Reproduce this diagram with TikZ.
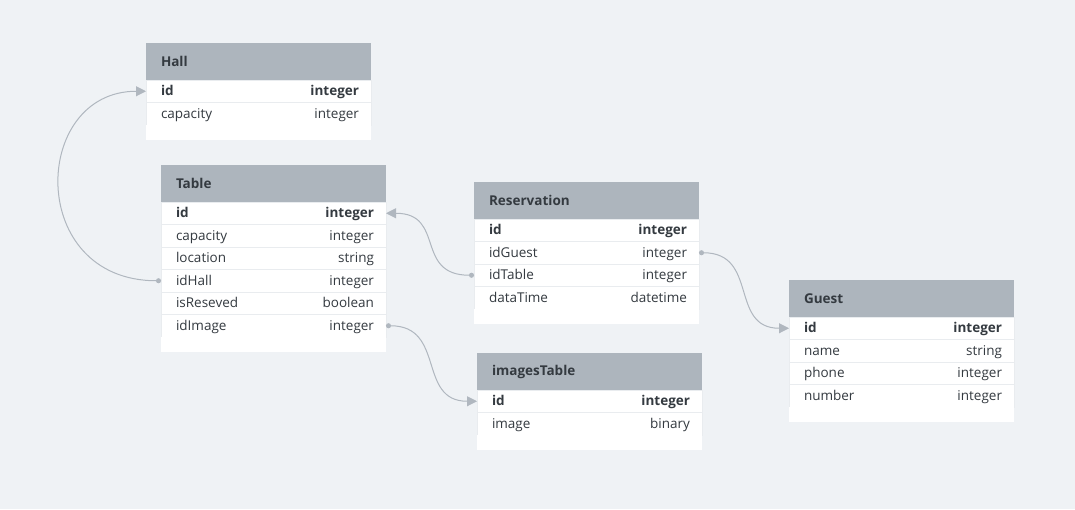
\documentclass[tikz,border=0pt]{standalone}
\usepackage{fontspec}
\setmainfont{Open Sans}
\usetikzlibrary{arrows.meta, positioning}

\definecolor{bgcol}{HTML}{EFF2F5}
\definecolor{headcol}{HTML}{ADB5BD}
\definecolor{sepcol}{HTML}{E9ECEF}
\definecolor{txtcol}{HTML}{343A40}
\definecolor{linkcol}{HTML}{B0B7BF}

\begin{document}
\begin{tikzpicture}[
  x=1pt, y=-1pt,
  node distance=0pt,
  every node/.style={outer sep=0pt, text=txtcol},
  tblhead/.style={fill=headcol, minimum height=37pt, text width=195pt,
    inner xsep=15pt, inner ysep=0pt, align=left,
    font=\fontsize{13.5}{16}\selectfont\bfseries},
  tblrow/.style={fill=white, draw=sepcol, line width=1pt, minimum height=22.5pt,
    text width=198pt, inner xsep=13.5pt, inner ysep=0pt, align=left,
    text height=2ex, text depth=.4ex,
    execute at begin node=\hspace*{1.5pt},
    execute at end node=\hspace*{-1.5pt},
    font=\fontsize{13.5}{16}\selectfont},
  tblend/.style={fill=white, minimum height=15pt, minimum width=225pt, inner sep=0pt},
  link/.style={draw=linkcol, line width=1pt,
    {Circle[length=5pt]}-{Triangle[length=10pt, width=10pt]}}
]
  \useasboundingbox[fill=bgcol] (0,0) rectangle (1075,509);

  % Hall
  \node[tblhead, anchor=north west] (hall) at (146,43) {Hall};
  \node[tblrow, below=of hall]    (hallId)  {\textbf{id}\hfill\textbf{integer}};
  \node[tblrow, below=of hallId]  (hallCap) {capacity\hfill integer};
  \node[tblend, below=of hallCap] (hallEnd) {};

  % Table
  \node[tblhead, anchor=north west] (tbl) at (161,165) {Table};
  \node[tblrow, below=of tbl]         (tblId)      {\textbf{id}\hfill\textbf{integer}};
  \node[tblrow, below=of tblId]       (tblCap)     {capacity\hfill integer};
  \node[tblrow, below=of tblCap]      (tblLoc)     {location\hfill string};
  \node[tblrow, below=of tblLoc]      (tblIdHall)  {idHall\hfill integer};
  \node[tblrow, below=of tblIdHall]   (tblRes)     {isReseved\hfill boolean};
  \node[tblrow, below=of tblRes]      (tblIdImage) {idImage\hfill integer};
  \node[tblend, below=of tblIdImage]  (tblEnd)     {};

  % Reservation
  \node[tblhead, anchor=north west] (res) at (474,182) {Reservation};
  \node[tblrow, below=of res]        (resId)      {\textbf{id}\hfill\textbf{integer}};
  \node[tblrow, below=of resId]      (resIdGuest) {idGuest\hfill integer};
  \node[tblrow, below=of resIdGuest] (resIdTable) {idTable\hfill integer};
  \node[tblrow, below=of resIdTable] (resTime)    {dataTime\hfill datetime};
  \node[tblend, below=of resTime]    (resEnd)     {};

  % imagesTable
  \node[tblhead, anchor=north west] (img) at (477,353) {imagesTable};
  \node[tblrow, below=of img]      (imgId)  {\textbf{id}\hfill\textbf{integer}};
  \node[tblrow, below=of imgId]    (imgImg) {image\hfill binary};
  \node[tblend, below=of imgImg]   (imgEnd) {};

  % Guest
  \node[tblhead, anchor=north west] (guest) at (789,280) {Guest};
  \node[tblrow, below=of guest]      (guestId)    {\textbf{id}\hfill\textbf{integer}};
  \node[tblrow, below=of guestId]    (guestName)  {name\hfill string};
  \node[tblrow, below=of guestName]  (guestPhone) {phone\hfill integer};
  \node[tblrow, below=of guestPhone] (guestNum)   {number\hfill integer};
  \node[tblend, below=of guestNum]   (guestEnd)   {};

  % references
  \path[link] (tblIdHall.west) .. controls +(-135,0) and +(-115,0) .. (hallId.west);
  \path[link] (resIdTable.west) .. controls +(-60,0) and +(60,0) .. (tblId.east);
  \path[link] (tblIdImage.east) .. controls +(60,0) and +(-60,0) .. (imgId.west);
  \path[link] (resIdGuest.east) .. controls +(60,0) and +(-60,0) .. (guestId.west);
\end{tikzpicture}
\end{document}
